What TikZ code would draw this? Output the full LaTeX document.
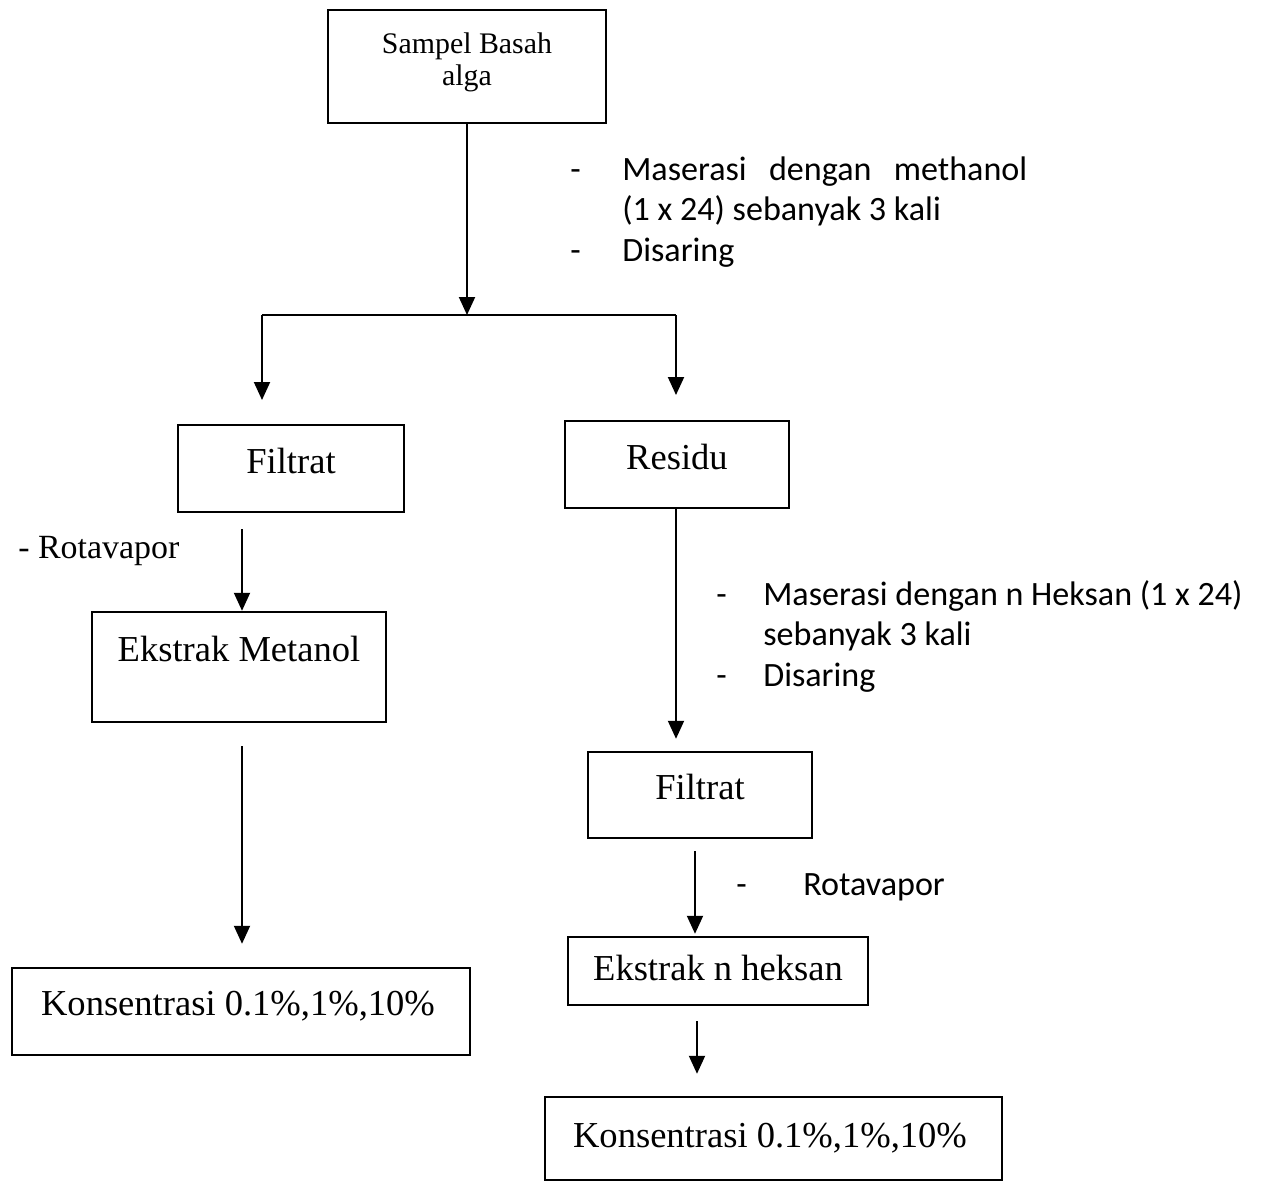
\documentclass[tikz,border=0pt]{standalone}
\usepackage{fontspec}
\setmainfont{Liberation Serif}
\newfontfamily\calfont{Carlito}
\usetikzlibrary{arrows.meta,fit,calc}
\begin{document}
\begin{tikzpicture}[x=0.02cm,y=-0.02cm,
  box/.style={draw=black,line width=1.4pt,inner sep=0pt},
  boxtext/.style={anchor=base,inner sep=0pt,font=\fontsize{20.8}{24}\selectfont},
  ln/.style={draw=black,line width=1.1pt},
  arr/.style={ln,-{Triangle[width=0.32cm,length=0.36cm]}},
  note/.style={anchor=base west,inner sep=0pt,font=\calfont\fontsize{19.4}{23.3}\selectfont},
]
\useasboundingbox (0,0) rectangle (1265,1184);
\fill[white] (0,0) rectangle (1265,1184);

% boxes
\node[box,fit={(328,10) (606,123)}] (top) {};
\node[box,fit={(178,425) (404,512)}] (f1) {};
\node[box,fit={(565,421) (789,508)}] (res) {};
\node[box,fit={(92,612) (386,722)}] (em) {};
\node[box,fit={(12,968) (470,1055)}] (k1) {};
\node[box,fit={(588,752) (812,838)}] (f2) {};
\node[box,fit={(568,937) (868,1005)}] (en) {};
\node[box,fit={(545,1097) (1002,1180)}] (k2) {};

% box texts
\node[anchor=north,inner sep=0pt,align=center,font=\fontsize{17}{18.2}\selectfont] (ttop) at (467,32) {Sampel Basah\\alga};
\node[boxtext] (tf1) at (291,473) {Filtrat};
\node[boxtext] (tres) at (677,469) {Residu};
\node[boxtext] (tem) at (239,661) {Ekstrak Metanol};
\node[boxtext] (tk1) at (238,1015) {Konsentrasi 0.1\%,1\%,10\%};
\node[boxtext] (tf2) at (700,799) {Filtrat};
\node[boxtext] (ten) at (718,980) {Ekstrak n heksan};
\node[boxtext] (tk2) at (770,1147) {Konsentrasi 0.1\%,1\%,10\%};

% annotations
\node[note] (n1) at (570,180) {\begin{tabular}[t]{@{}p{1.04cm}@{}l@{}}
- & \makebox[8.1cm][s]{Maserasi dengan methanol}\\
 & (1 x 24) sebanyak 3 kali\\
- & Disaring
\end{tabular}};
\node[note] (n2) at (716,605) {\begin{tabular}[t]{@{}p{0.94cm}@{}l@{}}
- & Maserasi dengan n Heksan (1 x 24)\\
 & sebanyak 3 kali\\
- & Disaring
\end{tabular}};
\node[note] (n3) at (736,895) {\begin{tabular}[t]{@{}p{1.34cm}@{}l@{}}
- & Rotavapor
\end{tabular}};
\node[anchor=base west,inner sep=0pt,font=\fontsize{19.3}{22}\selectfont] (n4) at (18,558) {- Rotavapor};

% connectors
\coordinate (j) at (top.south |- 0,315);
\coordinate (jl) at (262,315);
\coordinate (jr) at (676,315);
\coordinate (al) at (262,400);
\coordinate (ar) at (676,395);
\draw[arr] (top.south) -- (j);
\draw[ln] (jl) -- (jr);
\draw[arr] (jl) -- (al);
\draw[arr] (jr) -- (ar);
\draw[arr] ($(em.north |- f1.south)+(3,16)$) -- ($(em.north)+(3,0)$);
\draw[arr] ($(em.south)+(3,23)$) -- ($(em.south |- k1.north)+(3,-23)$);
\draw[arr] ($(res.south)+(-1,0)$) -- ($(res.south |- f2.north)+(-1,-12)$);
\draw[arr] ($(f2.south)+(-5,12)$) -- ($(f2.south |- en.north)+(-5,-2)$);
\draw[arr] ($(en.south)+(-21,15)$) -- ($(en.south |- k2.north)+(-21,-22)$);
\end{tikzpicture}
\end{document}
